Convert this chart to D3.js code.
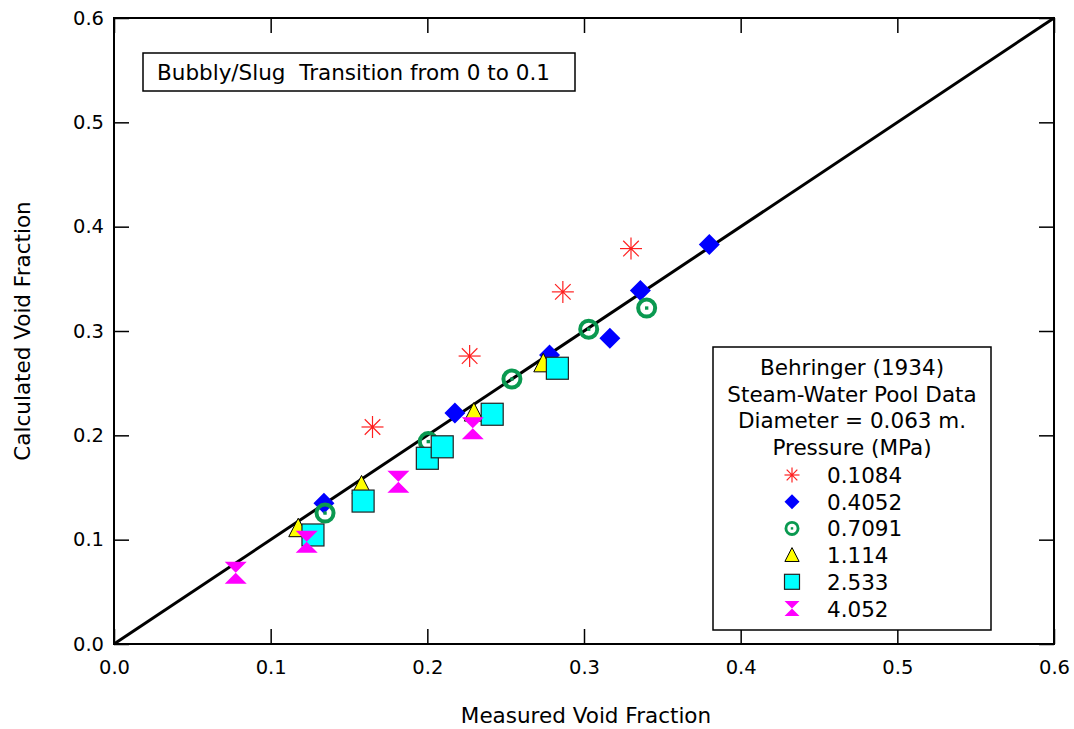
<!DOCTYPE html>
<html><head><meta charset="utf-8">
<script src="https://cdn.jsdelivr.net/npm/d3@7"></script>
<style>body{margin:0;background:#fff;} text{font-family:"DejaVu Sans",sans-serif;}</style>
</head><body><svg id="c" width="1074" height="729"></svg>
<script>
const xTicks = [0.0, 0.1, 0.2, 0.3, 0.4, 0.5, 0.6];
const yTicks = [0.0, 0.1, 0.2, 0.3, 0.4, 0.5, 0.6];
const seriesNames = ["0.1084", "0.4052", "0.7091", "1.114", "2.533", "4.052"];
const s0x = [0.165, 0.227, 0.2865, 0.330];
const s0y = [0.208, 0.276, 0.3375, 0.379];
const s1x = [0.134, 0.2176, 0.278, 0.3165, 0.336, 0.380];
const s1y = [0.135, 0.2215, 0.277, 0.293, 0.3387, 0.383];
const s2x = [0.1347, 0.2006, 0.254, 0.303, 0.340];
const s2y = [0.1255, 0.194, 0.254, 0.3017, 0.322];
const s3x = [0.1176, 0.158, 0.2297, 0.274];
const s3y = [0.111, 0.152, 0.2218, 0.269];
const s4x = [0.127, 0.159, 0.200, 0.2095, 0.2414, 0.283];
const s4y = [0.1045, 0.137, 0.178, 0.189, 0.2202, 0.2643];
const s5x = [0.0777, 0.123, 0.1815, 0.229];
const s5y = [0.0684, 0.098, 0.1556, 0.2068];
const legendTitle = ["Behringer (1934)", "Steam-Water Pool Data", "Diameter = 0.063 m.", "Pressure (MPa)"];
const noteText = "Bubbly/Slug  Transition from 0 to 0.1";

const svg = d3.select("#c");
const L = 114, R = 1054, T = 18, B = 644;
const x = d3.scaleLinear().domain([0, 0.6]).range([L, R]);
const y = d3.scaleLinear().domain([0, 0.6]).range([B, T]);
const fmt = d3.format(".1f");
const FS = 21.5;

// axes
const tl = 15;
svg.append("g").attr("transform", `translate(0,${B})`)
  .call(d3.axisBottom(x).tickValues(xTicks).tickFormat(fmt).tickSizeInner(-tl).tickSizeOuter(0).tickPadding(16))
  .call(g => { g.select(".domain").remove(); g.selectAll("text").attr("font-size", 19.5).attr("fill", "#000"); g.selectAll("line").attr("stroke","#000").attr("stroke-width",1.5); });
svg.append("g").attr("transform", `translate(${L},0)`)
  .call(d3.axisLeft(y).tickValues(yTicks).tickFormat(fmt).tickSizeInner(-tl).tickSizeOuter(0).tickPadding(10))
  .call(g => { g.select(".domain").remove(); g.selectAll("text").attr("font-size", 19.5).attr("fill", "#000"); g.selectAll("line").attr("stroke","#000").attr("stroke-width",1.5); });
svg.append("g").attr("transform", `translate(0,${T})`)
  .call(d3.axisTop(x).tickValues(xTicks).tickFormat("").tickSizeInner(-tl).tickSizeOuter(0))
  .call(g => { g.select(".domain").remove(); g.selectAll("line").attr("stroke","#000").attr("stroke-width",1.5); });
svg.append("g").attr("transform", `translate(${R},0)`)
  .call(d3.axisRight(y).tickValues(yTicks).tickFormat("").tickSizeInner(-tl).tickSizeOuter(0))
  .call(g => { g.select(".domain").remove(); g.selectAll("line").attr("stroke","#000").attr("stroke-width",1.5); });
svg.append("rect").attr("x", L).attr("y", T).attr("width", R - L).attr("height", B - T)
  .attr("fill", "none").attr("stroke", "#000").attr("stroke-width", 2);

// diagonal
svg.append("line").attr("x1", x(0)).attr("y1", y(0)).attr("x2", x(0.6)).attr("y2", y(0.6))
  .attr("stroke", "#000").attr("stroke-width", 3);

// axis titles
svg.append("text").attr("x", 586).attr("y", 723).attr("text-anchor", "middle").attr("font-size", FS).text("Measured Void Fraction");
svg.append("text").attr("transform", "translate(30,331) rotate(-90)").attr("text-anchor", "middle").attr("font-size", FS).text("Calculated Void Fraction");

// marker drawing
function drawMarker(g, type, s) {
  const h = s / 2;
  if (type === 0) {
    const r = h;
    [0, 45, 90, 135].forEach(a => {
      const rad = a * Math.PI / 180;
      g.append("line").attr("x1", -r * Math.cos(rad)).attr("y1", -r * Math.sin(rad))
        .attr("x2", r * Math.cos(rad)).attr("y2", r * Math.sin(rad))
        .attr("stroke", "#ff2020").attr("stroke-width", 1.2);
    });
    g.append("circle").attr("r", 1.5).attr("fill", "#ff2020");
  } else if (type === 1) {
    g.append("path").attr("d", `M0,${-h}L${h},0L0,${h}L${-h},0Z`).attr("fill", "#0000ff");
  } else if (type === 2) {
    const sw = s * 0.19;
    g.append("circle").attr("r", h - sw / 2).attr("fill", "none").attr("stroke", "#0a9950").attr("stroke-width", sw);
    g.append("rect").attr("x", -s*0.08).attr("y", -s*0.08).attr("width", s*0.16).attr("height", s*0.16).attr("fill", "#0a9950");
  } else if (type === 3) {
    g.append("path").attr("d", `M0,${-h}L${h*0.95},${h*0.85}L${-h*0.95},${h*0.85}Z`)
      .attr("fill", "#ffff00").attr("stroke", "#000").attr("stroke-width", 1);
  } else if (type === 4) {
    g.append("rect").attr("x", -h).attr("y", -h).attr("width", s).attr("height", s)
      .attr("fill", "#00ffff").attr("stroke", "#222").attr("stroke-width", 1.2);
  } else if (type === 5) {
    g.append("path").attr("d", `M${-h},${-h}L${h},${-h}L0,0Z M${-h},${h}L${h},${h}L0,0Z`).attr("fill", "#ff00ff");
  }
}

const seriesX = [s0x, s1x, s2x, s3x, s4x, s5x];
const seriesY = [s0y, s1y, s2y, s3y, s4y, s5y];
const plotSize = [22, 21, 21, 20, 22, 22];
seriesX.forEach((xs, i) => {
  const pts = xs.map((v, j) => [v, seriesY[i][j]]);
  svg.append("g").selectAll("g").data(pts).join("g")
    .attr("transform", d => `translate(${x(d[0])},${y(d[1])})`)
    .each(function () { drawMarker(d3.select(this), i, plotSize[i]); });
});

// note box
svg.append("rect").attr("x", 143).attr("y", 53).attr("width", 432).attr("height", 38)
  .attr("fill", "#fff").attr("stroke", "#000").attr("stroke-width", 1.5);
svg.append("text").attr("x", 157).attr("y", 80).attr("font-size", FS).style("white-space","pre").text(noteText);

// legend
const lg = svg.append("g");
lg.append("rect").attr("x", 713).attr("y", 347).attr("width", 278).attr("height", 283)
  .attr("fill", "#fff").attr("stroke", "#000").attr("stroke-width", 1.5);
legendTitle.forEach((t, i) => {
  lg.append("text").attr("x", 852).attr("y", 375 + i * 26.7).attr("text-anchor", "middle").attr("font-size", FS).text(t);
});
const legSize = [15, 15, 15, 15, 15, 15];
seriesNames.forEach((n, i) => {
  const cy = 475 + i * 26.7;
  const g = lg.append("g").attr("transform", `translate(792,${cy})`);
  drawMarker(g, i, legSize[i]);
  lg.append("text").attr("x", 827).attr("y", cy + 8).attr("font-size", FS).text(n);
});
</script></body></html>
